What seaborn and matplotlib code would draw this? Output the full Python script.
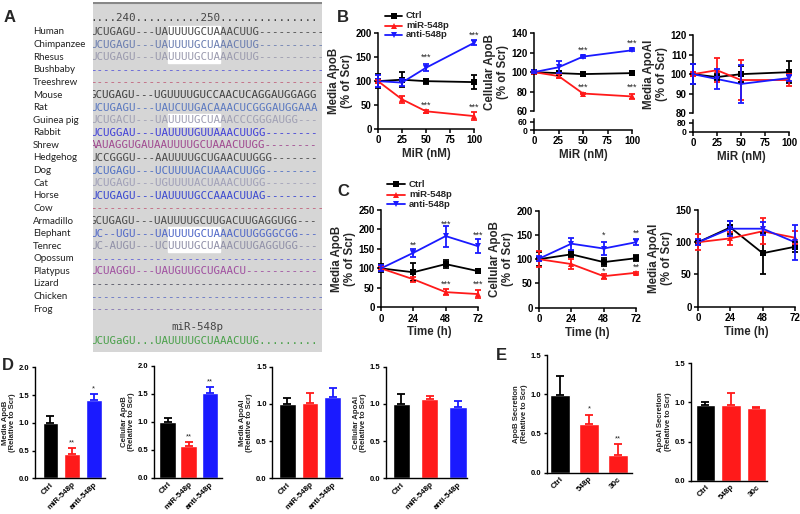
import numpy as np
import pandas as pd
import matplotlib
matplotlib.use("Agg")
import matplotlib.pyplot as plt
from matplotlib.lines import Line2D
from matplotlib.patches import Rectangle
import seaborn as sns

sns.set_style("ticks")
plt.rcParams['font.family'] = ['Liberation Sans', 'DejaVu Sans']
plt.rcParams['font.weight'] = 'bold'

# ---------------- data ----------------
groups = ["Ctrl", "miR-548p", "anti-548p"]
colors = ["#000000", "#ff1a1a", "#1a1aff"]
markers = ["s", "^", "v"]

dose = [0, 25, 50, 100]
time_h = [0, 24, 48, 72]

# B: dose response
b1_ctrl = [100, 103, 100, 98];   b1_ctrl_err = [14, 16, 5, 15]
b1_mir = [100, 62, 37, 27];      b1_mir_err = [3, 7, 3, 8]
b1_anti = [100, 97, 128, 180];   b1_anti_err = [13, 7, 7, 5]

b2_ctrl = [100, 99, 98, 99];     b2_ctrl_err = [1, 2, 2, 1]
b2_mir = [100, 96, 78, 75];      b2_mir_err = [1, 2, 1, 3]
b2_anti = [100, 105, 116, 122.5]; b2_anti_err = [1, 6, 1, 1]

b3_ctrl = [100, 98.5, 100, 101]; b3_ctrl_err = [5, 1.5, 4, 5.5]
b3_mir = [100, 102, 97, 97];     b3_mir_err = [1, 6, 10, 3]
b3_anti = [100, 97.5, 95, 98];   b3_anti_err = [5, 5, 9.5, 1.5]

# C: time course
c1_ctrl = [100, 90, 111, 93];    c1_ctrl_err = [10, 23, 10, 6]
c1_mir = [100, 72, 39, 34];      c1_mir_err = [5, 6, 7, 11]
c1_anti = [100, 140, 183, 157];  c1_anti_err = [8, 10, 27, 18]

c2_ctrl = [100, 110, 94, 102];   c2_ctrl_err = [15, 6, 8, 6]
c2_mir = [100, 90, 65, 72];      c2_mir_err = [16, 11, 5, 2]
c2_anti = [101, 132, 122, 135];  c2_anti_err = [5, 12, 14, 6]

c3_ctrl = [100, 123, 83, 93];    c3_ctrl_err = [4, 10, 32, 8]
c3_mir = [100, 106, 117, 107];   c3_mir_err = [12, 10, 20, 10]
c3_anti = [100, 121, 121, 100];  c3_anti_err = [5, 12, 10, 27]

b1_stars = [(50, 150, "***"), (100, 196, "***"), (50, 50, "***"), (100, 46, "***")]
b2_stars = [(50, 123, "***"), (100, 130, "***"), (50, 84, "***"), (100, 84, "***")]
c1_stars = [(24, 160, "**"), (48, 214, "***"), (72, 186, "***"), (48, 58, "***"), (72, 58, "***")]
c2_stars = [(48, 150, "*"), (72, 153, "**"), (48, 76, "*"), (72, 84, "**")]

# D, E: bar charts
d_cats = ["Ctrl", "miR-548p", "anti-548p"]
d1_vals = [1.00, 0.44, 1.41]; d1_err = [0.12, 0.11, 0.10]; d1_stars = ["", "**", "*"]
d2_vals = [1.00, 0.57, 1.51]; d2_err = [0.07, 0.08, 0.12]; d2_stars = ["", "**", "**"]
d3_vals = [1.00, 1.01, 1.09]; d3_err = [0.08, 0.14, 0.12]
d4_vals = [1.00, 1.06, 0.96]; d4_err = [0.13, 0.05, 0.08]
e_cats = ["Ctrl", "548p", "30c"]
e1_vals = [0.99, 0.62, 0.22]; e1_err = [0.24, 0.12, 0.15]; e1_stars = ["", "*", "**"]
e2_vals = [0.97, 0.97, 0.93]; e2_err = [0.03, 0.15, 0.01]

# A: alignment
species = ["Human", "Chimpanzee", "Rhesus", "Bushbaby", "Treeshrew", "Mouse", "Rat",
           "Guinea pig", "Rabbit", "Shrew", "Hedgehog", "Dog", "Cat", "Horse", "Cow",
           "Armadillo", "Elephant", "Tenrec", "Opossum", "Platypus", "Lizard", "Chicken", "Frog"]
DASH = "-" * 36
sequences = ["UCUGAGU---UAUUUUGCUAAACUUG----------",
             "UCUGAGU---UAUUUUGCUAAACUUG----------",
             "UCUGAGU---UAUUUUGCUAAACUUG----------",
             DASH, DASH,
             "GCUGAGU---UGUUUUGUCCAACUCAGGAUGGAGG",
             "UCUGAGU---UAUCUUGACAAACUCGGGAUGGAAA",
             "UCUGACU---UAUUUUGCUAAACCCGGGAUGG---",
             "UCUGGAU---UAUUUUGUUAAACUUGG--------",
             "AAUAGGUGAUAAUUUUGCUAAACUUGG--------",
             "UCCGGGU---AAUUUUGCUGAACUUGGG-------",
             "UCUGAGU---UCUUUUACUAAACUUGG--------",
             "UCUGAGU---UGUUUUACUAAACUUGG--------",
             "UCUGAGU---UAUUUUGCCAAACUUAG--------",
             DASH,
             "GCUGAGU---UAUUUUGCUUGACUUGAGGUGG---",
             "UC--UGU---UAUUUUGCUAAACUUGGGGCGG---",
             "UC-AUGU---UCUUUUGCUAAACUUGAGGUGG---",
             DASH,
             "UCUAGGU---UAUGUUGCUGAACU-----------",
             DASH, DASH, DASH]
seq_colors = ["#4a4a4a", "#6a7db0", "#9a9aae", "#5a5ad8", "#c0607a", "#404040", "#5a78c0",
              "#a0a0b4", "#4040d8", "#a04a90", "#4a4a4a", "#5070c4", "#a0a0b8", "#3a48d0",
              "#c0607a", "#4a4a4a", "#5068c8", "#9090a8", "#6060d8", "#a050a0", "#505060",
              "#6070c4", "#8070b0"]
ruler = "....240..........250..............."
consensus = "UCUGaGU...UAUUUUGCUAAACUUG........."

# ---------------- figure ----------------
W, H = 800, 514
fig = plt.figure(figsize=(W / 100, H / 100), dpi=100)


def pax(x0, y0, x1, y1):
    return fig.add_axes([x0 / W, 1 - y1 / H, (x1 - x0) / W, (y1 - y0) / H])


def ftext(x, y, s, **kw):
    fig.text(x / W, 1 - y / H, s, **kw)


# ---- Panel A ----
axA = pax(93, 2, 322, 352)
axA.set_xlim(93, 322)
axA.set_ylim(352, 2)
axA.set_facecolor("#d6d6d6")
for s in axA.spines.values():
    s.set_visible(False)
axA.plot([93, 322], [2.5, 2.5], color="#888888", lw=1.5)
axA.set_xticks([]); axA.set_yticks([])
cw = 6.5
x0 = 90.0
row_y = [32 + i * 12.6 for i in range(len(species))]
for rows in ([0, 1, 2], [7], [16, 17]):
    ytop = row_y[rows[0]] - 6.3
    ybot = row_y[rows[-1]] + 6.3
    axA.add_patch(Rectangle((x0 + 12 * cw, ytop), 8 * cw, ybot - ytop, color="white", zorder=1))
mono = dict(family="DejaVu Sans Mono", fontsize=7.8, va="center", ha="left", clip_on=True, zorder=3, fontweight="normal")
axA.text(x0, 18, ruler, color="#444444", **mono)
for name, seq, col, y in zip(species, sequences, seq_colors, row_y):
    axA.text(x0, y, seq, color=col, **mono)
    axA.text(33, y, name, color="#222222", fontsize=7, fontweight="normal", ha="left", va="center",
             clip_on=False, family=["Lato", "DejaVu Sans"])
axA.text(197, 327, "miR-548p", color="#444444", family="DejaVu Sans Mono", fontsize=7.8,
         ha="center", va="center", fontweight="normal")
axA.text(x0, 341, consensus, color="#4aa04a", **mono)
ftext(10, 17, "A", fontsize=12, fontweight="bold", va="center", ha="center")


# ---- line panels ----
def style_ax(ax, lw=1.1, ls=7):
    sns.despine(ax=ax)
    for s in ["left", "bottom"]:
        ax.spines[s].set_linewidth(lw)
        ax.spines[s].set_color("black")
    ax.tick_params(width=lw, length=3, labelsize=ls, pad=1.5, colors="black")
    for lab in ax.get_xticklabels() + ax.get_yticklabels():
        lab.set_fontweight("bold")


def draw_lines(ax, xs, means, errs):
    rows = []
    for g, m in zip(groups, means):
        for x, v in zip(xs, m):
            rows.append({"x": x, "y": v, "group": g})
    df = pd.DataFrame(rows)
    sns.lineplot(data=df, x="x", y="y", hue="group", style="group", hue_order=groups,
                 style_order=groups, palette=dict(zip(groups, colors)),
                 markers=dict(zip(groups, markers)), dashes=False, ax=ax, legend=False,
                 linewidth=1.3, markersize=4, markeredgewidth=0, errorbar=None)
    for g, m, e, c in zip(groups, means, errs, colors):
        eb = ax.errorbar(xs, m, yerr=e, fmt="none", ecolor=c, elinewidth=1.3, capsize=2.2,
                         capthick=1.3, zorder=3)
        for art in eb.lines[1] + eb.lines[2]:
            art.set_clip_on(False)
    for ln in ax.lines:
        ln.set_clip_on(False)
    ax.set_xlabel(""); ax.set_ylabel("")


def stars(ax, lst, fs=6.5):
    for x, y, t in lst:
        ax.text(x, y, t, ha="center", va="center", fontsize=fs, fontweight="normal")


def legend_at(x_line0, x_line1, ys):
    for g, c, mk, y in zip(groups, colors, markers, ys):
        fy = 1 - y / H
        fig.add_artist(Line2D([x_line0 / W, x_line1 / W], [fy, fy], color=c, lw=1.3))
        fig.add_artist(Line2D([(x_line0 + x_line1) / 2 / W], [fy], color=c, marker=mk, markersize=4,
                              markeredgewidth=0, lw=0))
        ftext(x_line1 + 4, y, g, fontsize=6.8, fontweight="bold", va="center", ha="left")


# B1
ax = pax(378, 33.3, 474, 129)
draw_lines(ax, dose, [b1_ctrl, b1_mir, b1_anti], [b1_ctrl_err, b1_mir_err, b1_anti_err])
ax.set_xlim(0, 100); ax.set_ylim(0, 200)
ax.set_xticks([0, 25, 50, 75, 100]); ax.set_yticks([0, 50, 100, 150, 200])
style_ax(ax)
stars(ax, b1_stars)
ax.set_ylabel("Media ApoB\n(% of Scr)", fontsize=8.3, fontweight="bold", labelpad=2, linespacing=1.1)
ax.set_xlabel("MiR (nM)", fontsize=8.3, fontweight="bold", labelpad=2)
legend_at(385, 402, [16, 25.5, 34.5])
ftext(343, 17, "B", fontsize=12, fontweight="bold", va="center", ha="center")


def broken(xa0, xa1, ytop, ybreak, ylow_top, ybottom, means, errs, ylim, yticks, lowtop, st=None,
           ylabel=""):
    up = pax(xa0, ytop, xa1, ybreak)
    draw_lines(up, dose, means, errs)
    up.set_xlim(0, 100); up.set_ylim(*ylim); up.set_yticks(yticks)
    style_ax(up)
    up.spines["bottom"].set_visible(False)
    up.set_xticks([])
    if st:
        stars(up, st)
    up.set_ylabel(ylabel, fontsize=8.3, fontweight="bold", labelpad=2, linespacing=1.1)
    lo = pax(xa0, ylow_top, xa1, ybottom)
    lo.set_xlim(0, 100); lo.set_ylim(0, lowtop)
    lo.set_yticks([0, lowtop]); lo.set_xticks([0, 25, 50, 75, 100])
    style_ax(lo)
    lo.tick_params(axis="y", labelsize=6.2, pad=1.5)
    lo.spines["left"].set_bounds(0, lowtop * 1.3)
    lo.set_xlabel("MiR (nM)", fontsize=8.3, fontweight="bold", labelpad=2)
    return up, lo


broken(534, 632, 33.3, 111, 121.7, 130, [b2_ctrl, b2_mir, b2_anti], [b2_ctrl_err, b2_mir_err, b2_anti_err],
       (60, 140), [60, 80, 100, 120, 140], 60, b2_stars, "Cellular ApoB\n(% of Scr)")
broken(693, 789, 35, 113.3, 122.7, 131.7, [b3_ctrl, b3_mir, b3_anti], [b3_ctrl_err, b3_mir_err, b3_anti_err],
       (80, 120), [80, 90, 100, 110, 120], 80, None, "Media ApoAI\n(% of Scr)")


def time_panel(x0_, y0_, x1_, y1_, means, errs, ymax, yticks, st, ylabel):
    ax = pax(x0_, y0_, x1_, y1_)
    draw_lines(ax, time_h, means, errs)
    ax.set_xlim(0, 72); ax.set_ylim(0, ymax)
    ax.set_xticks(time_h); ax.set_yticks(yticks)
    style_ax(ax)
    if st:
        stars(ax, st)
    ax.set_ylabel(ylabel, fontsize=8.3, fontweight="bold", labelpad=2, linespacing=1.1)
    ax.set_xlabel("Time (h)", fontsize=8.3, fontweight="bold", labelpad=2)
    return ax


time_panel(381, 210, 478, 307.3, [c1_ctrl, c1_mir, c1_anti], [c1_ctrl_err, c1_mir_err, c1_anti_err],
           250, [0, 50, 100, 150, 200, 250], c1_stars, "Media ApoB\n(% of Scr)")
time_panel(539, 210.7, 636, 307.7, [c2_ctrl, c2_mir, c2_anti], [c2_ctrl_err, c2_mir_err, c2_anti_err],
           200, [0, 50, 100, 150, 200], c2_stars, "Cellular ApoB\n(% of Scr)")
time_panel(698, 210, 795, 306.7, [c3_ctrl, c3_mir, c3_anti], [c3_ctrl_err, c3_mir_err, c3_anti_err],
           150, [0, 50, 100, 150], None, "Media ApoAI\n(% of Scr)")
legend_at(387, 405, [184, 194.5, 204.5])
ftext(343, 192, "C", fontsize=12, fontweight="bold", va="center", ha="center")


# ---- bar panels ----
def bar_panel(spine_x, right_x, ytop, ybot, cats, vals, errs, bar_colors, ymax, yticks, off, right,
              width, ylabel, st=None):
    ax = pax(spine_x, ytop, right_x, ybot)
    sns.barplot(x=cats, y=vals, hue=cats, palette=bar_colors, width=width, saturation=1,
                ax=ax, legend=False, order=cats, hue_order=cats)
    for i, (v, e, c) in enumerate(zip(vals, errs, bar_colors)):
        ax.errorbar([i], [v], yerr=[[0], [e]], fmt="none", ecolor=c, elinewidth=1.3, capsize=3,
                    capthick=1.3)
        if st and st[i]:
            ax.text(i, v + e + ymax * 0.015, st[i], ha="center", va="bottom", fontsize=5.5,
                    fontweight="normal")
    ax.set_xlim(-off, len(cats) - 1 + right)
    ax.set_ylim(0, ymax)
    ax.set_yticks(yticks)
    ax.set_yticklabels([f"{t:.1f}" for t in yticks])
    style_ax(ax, lw=1.0)
    ax.tick_params(labelsize=5.5, length=2.5)
    ax.tick_params(axis="x", length=0, pad=2)
    for lab in ax.get_xticklabels():
        lab.set_rotation(45); lab.set_ha("right"); lab.set_rotation_mode("anchor")
        lab.set_fontweight("bold"); lab.set_fontsize(5.8)
    for lab in ax.get_yticklabels():
        lab.set_fontweight("bold")
    ax.set_ylabel(ylabel, fontsize=5.6, fontweight="bold", labelpad=2, linespacing=1.1)
    ax.set_xlabel("")
    return ax


bar_panel(35, 104.6, 367.3, 478.3, d_cats, d1_vals, d1_err, colors, 2.0, [0.0, 0.5, 1.0, 1.5, 2.0],
          0.71, 0.5, 0.72, "Media ApoB\n(Relative to Scr)", d1_stars)
bar_panel(154, 222, 366, 478, d_cats, d2_vals, d2_err, colors, 2.0, [0.0, 0.5, 1.0, 1.5, 2.0],
          0.64, 0.57, 0.78, "Cellular ApoB\n(Relative to Scr)", d2_stars)
bar_panel(272.3, 342, 366.7, 478.3, d_cats, d3_vals, d3_err, colors, 1.5, [0.0, 0.5, 1.0, 1.5],
          0.66, 0.41, 0.74, "Media ApoAI\n(Relative to Scr)")
bar_panel(386, 467, 366.7, 478.3, d_cats, d4_vals, d4_err, colors, 1.5, [0.0, 0.5, 1.0, 1.5],
          0.54, 0.32, 0.62, "Cellular ApoAI\n(Relative to Scr)")
ftext(8, 366, "D", fontsize=12, fontweight="bold", va="center", ha="center")

e_colors = ["#000000", "#ff1a1a", "#ff1a1a"]
bar_panel(546.7, 631.7, 355, 472.7, e_cats, e1_vals, e1_err, e_colors, 1.5, [0.0, 0.5, 1.0, 1.5],
          0.46, 0.48, 0.69, "ApoB Secretion\n(Relative to Scr)", e1_stars)
bar_panel(690.7, 766.7, 363.3, 480.7, e_cats, e2_vals, e2_err, e_colors, 1.5, [0.0, 0.5, 1.0, 1.5],
          0.58, 0.4, 0.75, "ApoAI Secretion\n(Relative to Scr)")
ftext(501, 355, "E", fontsize=12, fontweight="bold", va="center", ha="center")

fig.savefig("out.png", dpi=100)
